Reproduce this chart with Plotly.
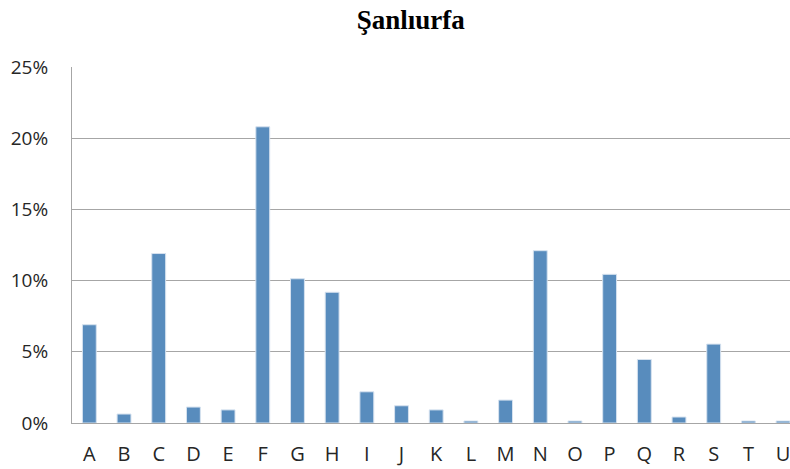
import plotly.graph_objects as go

# --- data -----------------------------------------------------------------
categories = list("ABCDEFGHIJKLMNOPQRSTU")
shares = [6.9, 0.63, 11.9, 1.12, 0.92, 20.8, 10.13, 9.18, 2.19, 1.21, 0.92,
          0.14, 1.61, 12.1, 0.14, 10.44, 4.46, 0.42, 5.54, 0.14, 0.14]
y_ticks = [0, 5, 10, 15, 20, 25]

BAR_COLOR = "#588cbd"
GRID_COLOR = "#a6a6a6"
TEXT_COLOR = "#262626"

fig = go.Figure(go.Bar(
    x=categories,
    y=shares,
    width=0.4,
    marker=dict(color=BAR_COLOR, line=dict(color="#d6e2ef", width=1)),
))

fig.update_layout(
    title=dict(text="<b>Şanlıurfa</b>", x=0.52, xanchor="center", y=0.958, yanchor="middle",
               font=dict(family="Liberation Serif", size=27, color="#000000")),
    width=790, height=469,
    paper_bgcolor="white", plot_bgcolor="white",
    margin=dict(l=72, r=0, t=67, b=46, autoexpand=False),
    showlegend=False,
    font=dict(family="Open Sans", color=TEXT_COLOR, size=19),
)
fig.update_xaxes(
    range=[-0.5, 20.2], showline=True, linecolor=GRID_COLOR, linewidth=1,
    showgrid=False, ticks="", ticklabelstandoff=13, ticklabeloverflow="allow",
    tickfont=dict(size=20),
)
fig.update_yaxes(
    range=[0, 25], tickvals=y_ticks, ticktext=[f"{v}%" for v in y_ticks],
    showgrid=True, gridcolor=GRID_COLOR, gridwidth=1,
    showline=True, linecolor=GRID_COLOR, zeroline=False,
    ticks="", ticklabelstandoff=19, tickfont=dict(size=19),
)

# drop the browser's default body margin so the 790x469 figure fills the window
fig.write_html("out.html", config={"displayModeBar": False},
               post_script="document.body.style.margin='0';document.body.style.overflow='hidden';")
